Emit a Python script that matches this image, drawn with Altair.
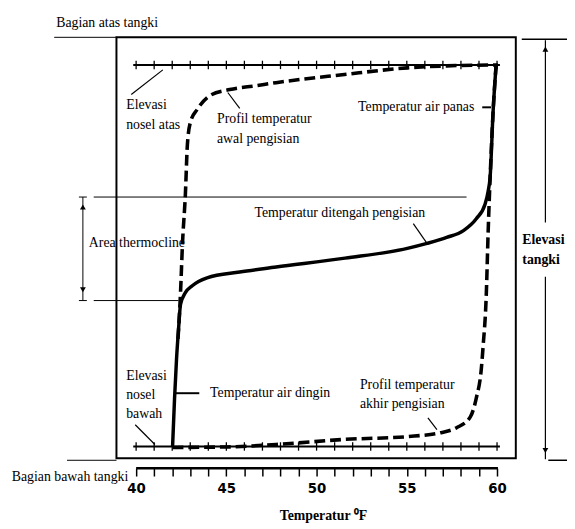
import altair as alt
import pandas as pd

# ---------------- data (temperature in °F, elevation in % of tank height) ----------------
X_DOMAIN = [32.9, 63.44]
Y_DOMAIN = [-2.34, 106.09]

# solid: temperature profile in the middle of filling (cold -> hot)
mid_temp = [42.02, 42.13, 42.24, 42.35, 42.46, 42.73, 43.11, 43.93, 45.74, 47.76, 51.58,
            55.03, 56.12, 57.21, 58.14, 58.85, 59.34, 59.51, 59.62, 59.78, 59.95]
mid_elev = [2.81, 14.29, 23.65, 30.68, 36.53, 39.34, 40.98, 42.86, 44.26, 45.43, 47.54,
            49.88, 51.05, 52.46, 54.10, 56.91, 60.42, 63.47, 66.98, 82.20, 93.44]

# dashed: profile at start of filling
init_temp = [42.32, 42.46, 42.57, 42.73, 42.84, 43.01, 43.39, 44.10, 45.19, 46.67, 47.76,
             51.42, 55.03, 57.21, 60.05]
init_elev = [28.34, 39.34, 51.05, 62.76, 74.47, 79.86, 82.90, 86.18, 87.59, 88.52, 89.23,
             91.10, 92.74, 93.21, 93.44]

# dashed: profile at end of filling
final_temp = [42.02, 45.03, 47.76, 51.42, 55.41, 56.89, 57.76, 58.52, 58.85, 59.13, 59.23,
              59.40, 59.51, 59.62, 59.78, 59.95]
final_elev = [2.58, 2.69, 3.28, 4.45, 5.27, 6.09, 7.26, 9.84, 14.29, 21.31, 26.70,
              38.41, 54.10, 66.98, 82.20, 93.44]

# nozzle elevations and their tick positions
nozzle_elev = [93.44, 2.81]
nozzle_span = [39.84, 60.16]
nozzle_ticks = list(range(40, 61))

# tank box
tank_temp = [38.91, 61.04]
tank_elev = [0.0, 100.0]

# straight guide / leader segments: x, x2, y, y2, width
seg_x = [35.46, 36.17, 37.65, 36.83, 37.65, 36.83, 37.05, 62.68, 62.68, 61.37, 62.84, 40.0,
         39.73, 45.08, 59.18, 55.36, 39.95, 42.19, 56.17]
seg_x2 = [38.91, 38.91, 58.31, 37.27, 42.35, 37.27, 37.05, 62.68, 62.68, 63.9, 63.9, 60.05,
          41.48, 45.74, 59.67, 56.12, 41.04, 43.50, 56.67]
seg_y = [100.0, -0.47, 62.06, 62.06, 37.47, 37.47, 62.06, 99.3, 43.1, 99.53, -0.47, -2.34,
         86.42, 86.89, 83.37, 55.74, 7.96, 15.46, 9.60]
seg_y2 = [100.0, -0.47, 62.06, 62.06, 37.47, 37.47, 37.47, 56.0, -0.23, 99.53, -0.47, -2.34,
          92.27, 83.14, 83.37, 51.05, 3.28, 15.46, 6.79]
seg_w = [1, 1, 1, 1, 1, 1, 1, 1.2, 1.2, 1.5, 1.5, 2.5,
         1.2, 1.2, 2, 1.2, 1.2, 2, 1.2]

# arrow heads
arrow_x = [37.05, 37.05, 62.68, 62.68]
arrow_y = [59.7, 40.05, 97.19, 1.87]
arrow_shape = ["triangle-up", "triangle-down", "triangle-up", "triangle-down"]

# text labels (regular serif)
lab_text = ["Bagian atas tangki", "Bagian bawah tangki", "Elevasi", "nosel atas",
            "Profil temperatur", "awal pengisian", "Temperatur air panas",
            "Temperatur ditengah pengisian", "Area thermocline", "Elevasi", "nosel", "bawah",
            "Temperatur air dingin", "Profil temperatur", "akhir pengisian"]
lab_x = [35.57, 33.11, 39.45, 39.45, 44.48, 44.48, 52.30, 46.56, 37.38, 39.45, 39.45, 39.45,
         44.10, 52.40, 52.40]
lab_y = [103.28, -4.45, 83.84, 79.16, 80.56, 75.88, 83.37, 58.31, 51.05, 19.44, 14.99, 10.54,
         15.46, 17.33, 12.88]

# bold labels
bold_text = ["Elevasi", "tangki"]
bold_x = [61.40, 61.40]
bold_y = [51.76, 47.07]

axis_title = "Temperatur \u2070F"
axis_title_x = 50.38
axis_title_y = -13.82

# ---------------- frames ----------------
def curve_df(t, e):
    return pd.DataFrame({"x": t, "y": e, "i": list(range(len(t)))})

mid_df = curve_df(mid_temp, mid_elev)
init_df = curve_df(init_temp, init_elev)
final_df = curve_df(final_temp, final_elev)

noz_df = pd.DataFrame({"x": [nozzle_span[0]] * 2, "x2": [nozzle_span[1]] * 2, "y": nozzle_elev})
ntick_df = pd.DataFrame([{"x": t, "y": e - 1.0, "y2": e + 1.0} for e in nozzle_elev for t in nozzle_ticks])
box_df = pd.DataFrame({"x": [tank_temp[0]], "x2": [tank_temp[1]], "y": [tank_elev[0]], "y2": [tank_elev[1]]})
seg_df = pd.DataFrame({"x": seg_x, "x2": seg_x2, "y": seg_y, "y2": seg_y2, "w": seg_w})
arrow_df = pd.DataFrame({"x": arrow_x, "y": arrow_y, "s": arrow_shape})
lab_df = pd.DataFrame({"x": lab_x, "y": lab_y, "t": lab_text})
bold_df = pd.DataFrame({"x": bold_x, "y": bold_y, "t": bold_text})
title_df = pd.DataFrame({"x": [axis_title_x], "y": [axis_title_y], "t": [axis_title]})

# ---------------- encodings ----------------
xs = alt.Scale(domain=X_DOMAIN, nice=False, zero=False)
ys = alt.Scale(domain=Y_DOMAIN, nice=False, zero=False)
xaxis = alt.Axis(values=nozzle_ticks, tickSize=8, tickWidth=1.5, tickColor="black",
                 domain=False, grid=False, title=None,
                 labelExpr="datum.value % 5 === 0 ? datum.label : ''",
                 labelFont="DejaVu Sans Condensed", labelFontSize=15, labelFontWeight="bold",
                 labelColor="black", labelPadding=5)

def X(f="x"):
    return alt.X(f, type="quantitative", scale=xs, axis=xaxis)

def Y(f="y"):
    return alt.Y(f, type="quantitative", scale=ys, axis=None)

SERIF = "Liberation Serif, Times New Roman, serif"

box = alt.Chart(box_df).mark_rect(fillOpacity=0, stroke="black", strokeWidth=2).encode(
    x=X(), x2="x2", y=Y(), y2="y2")

segs = alt.Chart(seg_df).mark_rule(color="black").encode(
    x=X(), x2="x2", y=Y(), y2="y2", strokeWidth=alt.StrokeWidth("w:Q", scale=None))

noz = alt.Chart(noz_df).mark_rule(color="black", strokeWidth=2).encode(x=X(), x2="x2", y=Y())
nticks = alt.Chart(ntick_df).mark_rule(color="black", strokeWidth=1.3).encode(x=X(), y=Y(), y2="y2")

arrows = alt.Chart(arrow_df).mark_point(filled=True, color="black", size=35, opacity=1).encode(
    x=X(), y=Y(), shape=alt.Shape("s:N", scale=None))

mid = alt.Chart(mid_df).mark_line(color="black", strokeWidth=3.5, interpolate="monotone").encode(
    x=X(), y=Y(), order="i:Q")
init = alt.Chart(init_df).mark_line(color="black", strokeWidth=3.6, strokeDash=[11, 5],
                                    interpolate="monotone").encode(x=X(), y=Y(), order="i:Q")
final = alt.Chart(final_df).mark_line(color="black", strokeWidth=3.6, strokeDash=[11, 5],
                                      interpolate="monotone").encode(x=X(), y=Y(), order="i:Q")

labels = alt.Chart(lab_df).mark_text(font=SERIF, fontSize=14, align="left", baseline="middle",
                                     color="black").encode(x=X(), y=Y(), text="t:N")
bold = alt.Chart(bold_df).mark_text(font=SERIF, fontSize=14, fontWeight="bold", align="left",
                                    baseline="middle", color="black").encode(x=X(), y=Y(), text="t:N")
title = alt.Chart(title_df).mark_text(font=SERIF, fontSize=14, fontWeight="bold", align="center",
                                      baseline="middle", color="black").encode(x=X(), y=Y(), text="t:N")

chart = alt.layer(box, segs, noz, nticks, mid, init, final, arrows, labels, bold, title).properties(
    width=559, height=463,
    autosize=alt.AutoSizeParams(type="none"),
    padding={"left": 0, "top": 0, "right": 8, "bottom": 58},
    background="white",
).configure_view(stroke=None)

chart.save("out.html", embed_options={"renderer": "svg", "actions": False})
